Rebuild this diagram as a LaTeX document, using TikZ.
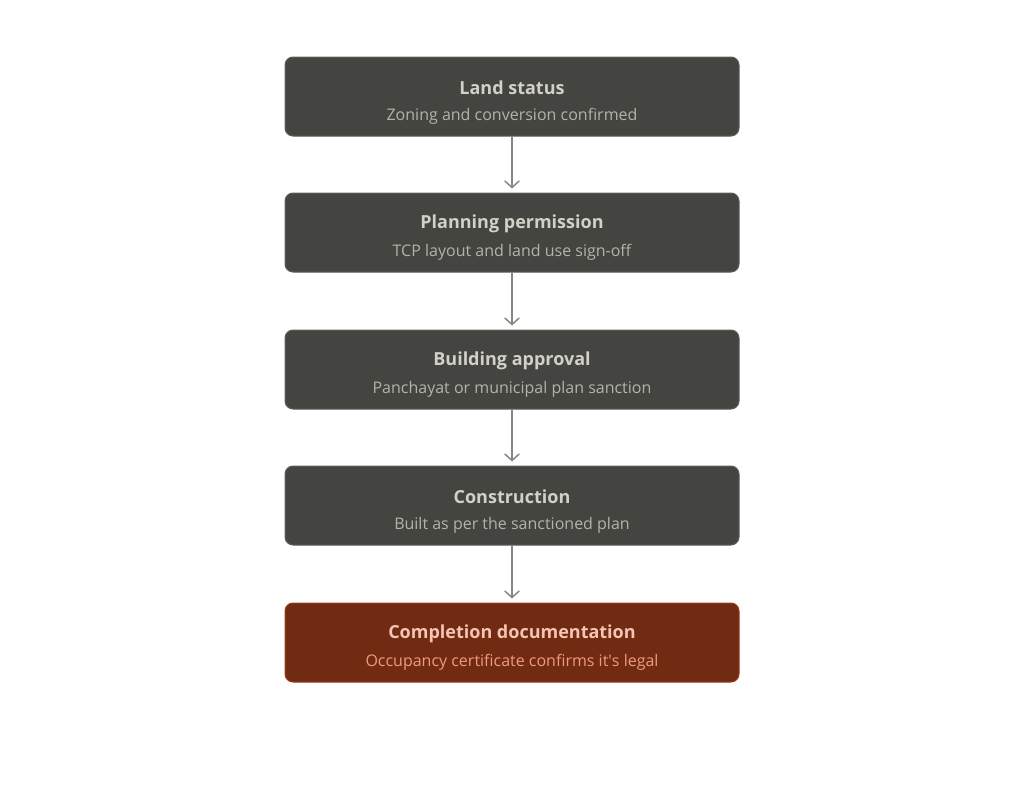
\documentclass[tikz,border=0pt]{standalone}
\usepackage{fontspec}
\setmainfont{Open Sans}
\usetikzlibrary{arrows.meta}
\definecolor{stepfill}{HTML}{444441}
\definecolor{stepline}{HTML}{5F5E5A}
\definecolor{steptitle}{HTML}{D3D1C7}
\definecolor{stepsub}{HTML}{B4B2A9}
\definecolor{endfill}{HTML}{712B13}
\definecolor{endline}{HTML}{993C1D}
\definecolor{endtitle}{HTML}{F5C4B3}
\definecolor{endsub}{HTML}{F0997B}
\definecolor{flow}{HTML}{888780}
\tikzset{
  stage/.style={draw=stepline, fill=stepfill, line width=0.75pt, rounded corners=6pt,
    minimum width=340.5pt, minimum height=59.25pt, inner sep=0pt},
  finalstage/.style={stage, draw=endline, fill=endfill},
  head/.style={text=steptitle, font=\fontsize{13.5}{16}\selectfont\bfseries, inner sep=0pt},
  sub/.style={text=stepsub, font=\fontsize{12}{14}\selectfont, inner sep=0pt},
}
\begin{document}
\begin{tikzpicture}[x=0.75pt, y=-0.75pt, >={Straight Barb[length=5pt,width=11pt]}]
        \useasboundingbox[fill=white] (0,0) rectangle (1024,796);
        \node[stage] (land) at (512, 96.5) {};
        \node[stage] (plan) at (512, 232.5) {};
        \node[stage] (build) at (512, 369.5) {};
        \node[stage] (constr) at (512, 505.5) {};
        \node[finalstage] (compl) at (512, 642.5) {};
        \node[head] (landh) at (512, 88) {Land status};
        \node[sub] (lands) at (512, 116.5) {Zoning and conversion confirmed};
        \node[head] (planh) at (512, 224) {Planning permission};
        \node[sub] (plans) at (512, 252.5) {TCP layout and land use sign-off};
        \node[head] (buildh) at (512, 361) {Building approval};
        \node[sub] (builds) at (512, 389.5) {Panchayat or municipal plan sanction};
        \node[head] (constrh) at (512, 497) {Construction};
        \node[sub] (constrs) at (512, 525.5) {Built as per the sanctioned plan};
        \node[head, text=endtitle] (complh) at (512, 634) {Completion documentation};
        \node[sub, text=endsub] (compls) at (512, 662.5) {Occupancy certificate confirms it\textquotesingle s legal};
        \draw[->, flow, line width=1.1pt, shorten >=3pt] (land) -- (plan);
        \draw[->, flow, line width=1.1pt, shorten >=3pt] (plan) -- (build);
        \draw[->, flow, line width=1.1pt, shorten >=3pt] (build) -- (constr);
        \draw[->, flow, line width=1.1pt, shorten >=3pt] (constr) -- (compl);
    \end{tikzpicture}
\end{document}
